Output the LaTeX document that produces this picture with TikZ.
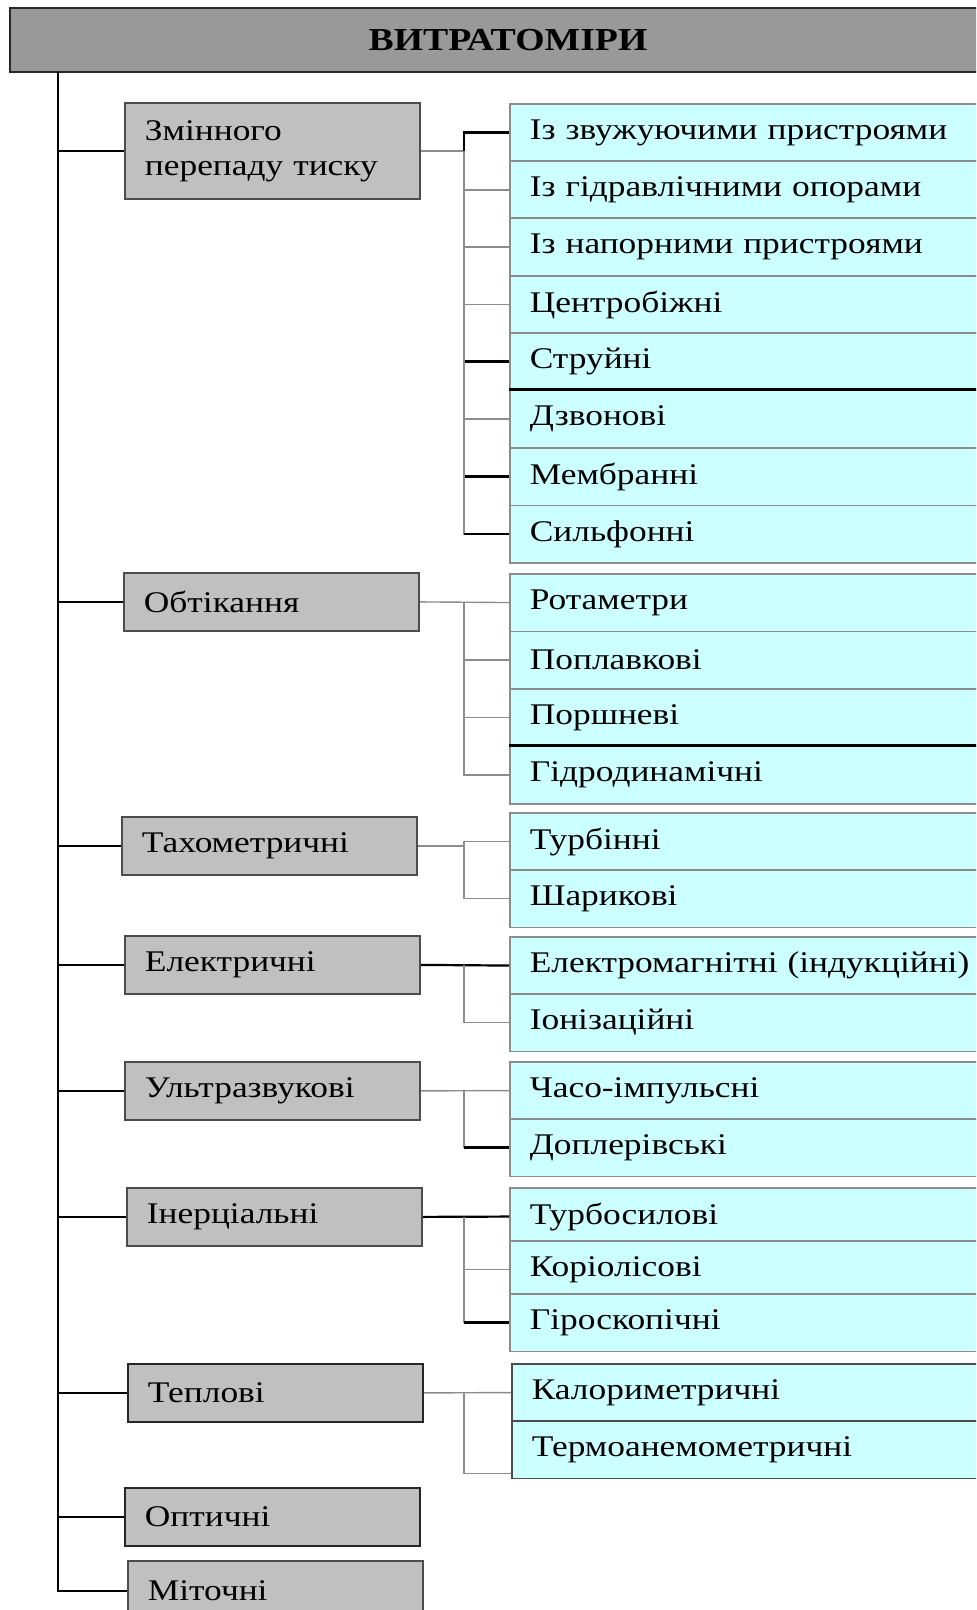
\documentclass[tikz,border=0pt]{standalone}
\usepackage{fontspec}
\setmainfont{Liberation Serif}[FakeStretch=1.18]
\definecolor{catgray}{HTML}{C0C0C0}
\definecolor{kindcyan}{HTML}{CCFFFF}
\definecolor{headgray}{HTML}{999999}
\tikzset{
  headbox/.style={draw=black!85, fill=headgray, line width=1pt, minimum width=498pt, minimum height=32pt, font=\bfseries\fontsize{16}{19}\selectfont},
  catbox/.style={draw=black!70, fill=catgray, line width=0.9pt, anchor=north west, minimum width=147.5pt, minimum height=29pt, text width=127.5pt, inner xsep=10pt, align=left, font=\fontsize{15}{17.5}\selectfont},
  kindbox/.style={draw=black!45, fill=kindcyan, line width=0.8pt, anchor=north west, minimum width=250pt, minimum height=28.75pt, text width=230pt, inner xsep=10pt, align=left, font=\fontsize{15}{17.5}\selectfont},
  trunk/.style={line width=1.3pt},
  link/.style={draw=black!45, line width=0.7pt},
  linkd/.style={line width=1.1pt}
}
\begin{document}
\begin{tikzpicture}[x=0.5pt, y=-0.5pt]
    \useasboundingbox (0,0) rectangle (976,1610);
    \clip (0,0) rectangle (976,1610);

    \node[headbox] (head) at (508,40) {ВИТРАТОМІРИ};
    \coordinate (root) at (58,72);
    \coordinate (bus) at (464,0);

    % Змінного перепаду тиску
    \node[catbox, minimum height=48pt] (p1) at (124,102) {Змінного\\перепаду тиску};
    \draw[trunk] (p1.west) -- (p1.west -| root);
    \draw[link] (p1.east) -- (p1.east -| bus);

    \node[kindbox] (k11) at (509,103) {Із звужуючими пристроями};
    \draw[linkd] (p1.east -| bus) |- (k11.west);

    \node[kindbox] (k12) at (509,160.5) {Із гідравлічними опорами};
    \draw[link] (p1.east -| bus) |- (k12.west);

    \node[kindbox] (k13) at (509,217.5) {Із напорними пристроями};
    \draw[link] (p1.east -| bus) |- (k13.west);

    \node[kindbox] (k14) at (509,275) {Центробіжні};
    \draw[link] (p1.east -| bus) |- (k14.west);

    \node[kindbox] (k15) at (509,332) {Струйні};
    \draw[linkd] (k15.west -| bus) -- (k15.west);

    \node[kindbox] (k16) at (509,389.5) {Дзвонові};
    \draw[link] (p1.east -| bus) |- (k16.west);
    \draw[linkd] (k16.north west) -- (k16.north east);

    \node[kindbox] (k17) at (509,447) {Мембранні};
    \draw[linkd] (k17.west -| bus) -- (k17.west);

    \node[kindbox] (k18) at (509,504.5) {Сильфонні};
    \draw[link] (p1.east -| bus) |- (k18.west);
    \draw[linkd] (k18.west -| bus) -- (k18.west);

    % Обтікання
    \node[catbox] (p2) at (123,572) {Обтікання};
    \draw[trunk] (p2.west) -- (p2.west -| root);

    \node[kindbox] (k21) at (509,573) {Ротаметри};
    \draw[link] (p2.east) -- (k21.west);

    \node[kindbox] (k22) at (509,630.5) {Поплавкові};
    \draw[link] (p2.east -| bus) |- (k22.west);

    \node[kindbox] (k23) at (509,688) {Поршневі};
    \draw[link] (p2.east -| bus) |- (k23.west);

    \node[kindbox] (k24) at (509,745.5) {Гідродинамічні};
    \draw[link] (p2.east -| bus) |- (k24.west);
    \draw[linkd] (k24.north west) -- (k24.north east);

    % Тахометричні
    \node[catbox] (p3) at (121,816) {Тахометричні};
    \draw[trunk] (p3.west) -- (p3.west -| root);

    \node[kindbox] (k31) at (509,812) {Турбінні};
    \draw[link] (p3.east) -- (p3.east -| bus) |- (k31.west);

    \node[kindbox] (k32) at (509,869) {Шарикові};
    \draw[link] (p3.east -| bus) |- (k32.west);

    % Електричні
    \node[catbox] (p4) at (124,935) {Електричні};
    \draw[trunk] (p4.west) -- (p4.west -| root);

    \node[kindbox] (k41) at (509,936) {Електромагнітні (індукційні)};
    \draw[linkd] (p4.east) -- (k41.west);

    \node[kindbox] (k42) at (509,993) {Іонізаційні};
    \draw[link] (p4.east -| bus) |- (k42.west);

    % Ультразвукові
    \node[catbox] (p5) at (124,1061) {Ультразвукові};
    \draw[trunk] (p5.west) -- (p5.west -| root);

    \node[kindbox] (k51) at (509,1061) {Часо-імпульсні};
    \draw[link] (p5.east) -- (k51.west);

    \node[kindbox] (k52) at (509,1118) {Доплерівські};
    \draw[link] (p5.east -| bus) |- (k52.west);
    \draw[linkd] (k52.west -| bus) -- (k52.west);

    % Інерціальні
    \node[catbox] (p6) at (126,1187) {Інерціальні};
    \draw[trunk] (p6.west) -- (p6.west -| root);

    \node[kindbox] (k61) at (509,1187) {Турбосилові};
    \draw[linkd] (p6.east) -- (k61.west);

    \node[kindbox] (k62) at (509,1240) {Коріолісові};
    \draw[link] (p6.east -| bus) |- (k62.west);

    \node[kindbox] (k63) at (509,1293) {Гіроскопічні};
    \draw[link] (p6.east -| bus) |- (k63.west);
    \draw[linkd] (k63.west -| bus) -- (k63.west);

    % Теплові
    \node[catbox, draw=black!85] (p7) at (127,1363) {Теплові};
    \draw[trunk] (p7.west) -- (p7.west -| root);

    \node[kindbox, draw=black!70] (k71) at (511,1363) {Калориметричні};
    \draw[link] (p7.east) -- (k71.west);

    \node[kindbox, draw=black!70] (k72) at (511,1420) {Термоанемометричні};
    \draw[link] (p7.east -| bus) |- ([yshift=-12pt]k72.west);

    % Оптичні, Міточні
    \node[catbox, draw=black!85] (p8) at (124,1487) {Оптичні};
    \draw[trunk] (p8.west) -- (p8.west -| root);

    \node[catbox, minimum height=30pt] (p9) at (127,1560) {Міточні};
    \draw[trunk] (root) |- (p9.west);
  \end{tikzpicture}
\end{document}
